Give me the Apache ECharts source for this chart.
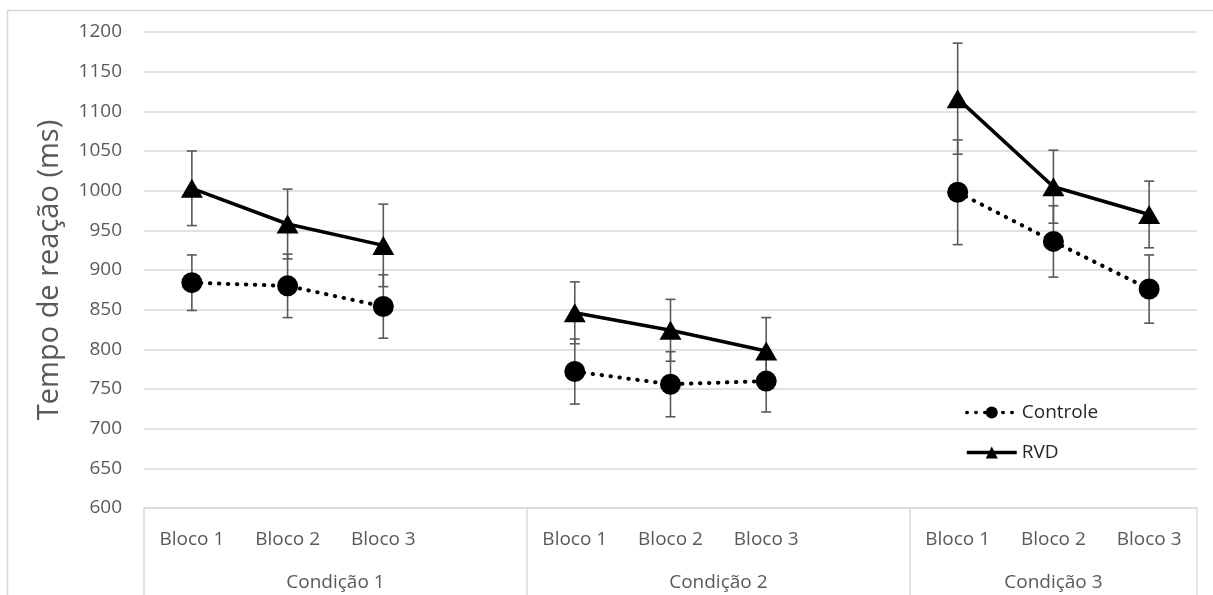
<!DOCTYPE html>
<html>
<head>
<meta charset="utf-8">
<script src="https://cdn.jsdelivr.net/npm/echarts@6/dist/echarts.min.js"></script>
<style>
  html, body { margin: 0; padding: 0; background: #fff; }
  #chart { width: 1213px; height: 595px; }
</style>
</head>
<body>
<div id="chart"></div>
<script>
// ---- Data ----
const categories = ['Bloco 1', 'Bloco 2', 'Bloco 3', '', 'Bloco 1', 'Bloco 2', 'Bloco 3', '', 'Bloco 1', 'Bloco 2', 'Bloco 3'];
const conditions = ['Condição 1', 'Condição 2', 'Condição 3'];
const seriesNames = ['Controle', 'RVD'];
const controle    = [884, 880, 854, null, 772, 756, 760, null, 998, 936, 876];
const controleErr = [35, 40, 40, null, 41, 41, 39, null, 66, 45, 43];
const rvd         = [1003, 958, 931, null, 846, 824, 798, null, 1116, 1005, 970];
const rvdErr      = [47, 44, 52, null, 39, 39, 42, null, 70, 46, 42];
const yTicks = { min: 600, max: 1200, interval: 50 };

// group layout on a 0..11 helper axis (slot boundaries and label centres)
const groupDividers = [0, 4, 8, 11];
const groupCenters = [2, 6, 9.5];

const FONT = '"Open Sans", "Noto Sans", sans-serif';
const GRID_COLOR = '#d9d9d9';
const TEXT_COLOR = '#595959';

function errData(vals, errs) {
  const out = [];
  vals.forEach((v, i) => {
    if (v != null && errs[i] != null) out.push([i, v - errs[i], v + errs[i]]);
  });
  return out;
}

function renderErr(params, api) {
  const x = api.value(0);
  const lo = api.coord([x, api.value(1)]);
  const hi = api.coord([x, api.value(2)]);
  const cap = 5;
  const style = { stroke: '#595959', lineWidth: 1.6 };
  return {
    type: 'group',
    children: [
      { type: 'line', shape: { x1: lo[0], y1: lo[1], x2: hi[0], y2: hi[1] }, style },
      { type: 'line', shape: { x1: lo[0] - cap, y1: lo[1], x2: lo[0] + cap, y2: lo[1] }, style },
      { type: 'line', shape: { x1: hi[0] - cap, y1: hi[1], x2: hi[0] + cap, y2: hi[1] }, style }
    ]
  };
}

const chart = echarts.init(document.getElementById('chart'), null, { renderer: 'canvas' });
chart.setOption({
  animation: false,
  backgroundColor: '#fff',
  textStyle: { fontFamily: FONT },
  graphic: [{
    type: 'rect', silent: true,
    shape: { x: 7.5, y: 10.5, width: 1300, height: 700 },
    style: { fill: 'none', stroke: GRID_COLOR, lineWidth: 1.5 }
  }],
  grid: { left: 144, right: 16, top: 32, bottom: 87, containLabel: false },
  legend: {
    orient: 'vertical',
    left: 960, top: 398,
    padding: 5,
    itemWidth: 50, itemHeight: 15, itemGap: 21,
    data: seriesNames,
    lineStyle: { width: 3.5 },
    textStyle: { fontFamily: FONT, fontSize: 19, color: '#262626', padding: [0, 0, 0, 0] }
  },
  xAxis: [{
    type: 'category',
    data: categories,
    boundaryGap: true,
    axisLine: { show: true, lineStyle: { color: GRID_COLOR, width: 1.5 } },
    axisTick: { show: false },
    axisLabel: { interval: 0, margin: 22, fontSize: 19, color: TEXT_COLOR, fontFamily: FONT },
    splitLine: { show: false }
  }, {
    type: 'value',
    position: 'bottom',
    min: 0, max: 11,
    axisLine: { show: false },
    axisTick: { show: true, inside: false, length: 90, customValues: groupDividers,
                lineStyle: { color: GRID_COLOR, width: 1.5 } },
    axisLabel: { show: true, margin: 65, fontSize: 19, color: TEXT_COLOR, fontFamily: FONT,
                 customValues: groupCenters,
                 formatter: v => { const k = groupCenters.indexOf(v); return k >= 0 ? conditions[k] : ''; } },
    splitLine: { show: false }
  }],
  yAxis: {
    type: 'value',
    min: yTicks.min, max: yTicks.max, interval: yTicks.interval,
    name: 'Tempo de reação (ms)',
    nameLocation: 'middle',
    nameGap: 80,
    nameRotate: 90,
    nameTextStyle: { fontSize: 29, color: TEXT_COLOR, fontFamily: FONT },
    axisLine: { show: false },
    axisTick: { show: false },
    axisLabel: { margin: 22, fontSize: 19, color: TEXT_COLOR, fontFamily: FONT,
                 formatter: v => String(v) },
    splitLine: { show: true, lineStyle: { color: GRID_COLOR, width: 1.5 } }
  },
  series: [
    {
      type: 'custom', name: 'errControle', xAxisIndex: 0, z: 1,
      renderItem: renderErr, data: errData(controle, controleErr), silent: true
    },
    {
      type: 'custom', name: 'errRVD', xAxisIndex: 0, z: 1,
      renderItem: renderErr, data: errData(rvd, rvdErr), silent: true
    },
    {
      name: seriesNames[0], type: 'line', xAxisIndex: 0, z: 3,
      data: controle, connectNulls: false,
      symbol: 'circle', symbolSize: 21,
      itemStyle: { color: '#000' },
      lineStyle: { color: '#000', width: 4, type: [0.5, 8.5], cap: 'round' }
    },
    {
      name: seriesNames[1], type: 'line', xAxisIndex: 0, z: 2,
      data: rvd, connectNulls: false,
      symbol: 'triangle', symbolSize: [22, 19],
      itemStyle: { color: '#000' },
      lineStyle: { color: '#000', width: 3.5 }
    }
  ]
});
</script>
</body>
</html>
